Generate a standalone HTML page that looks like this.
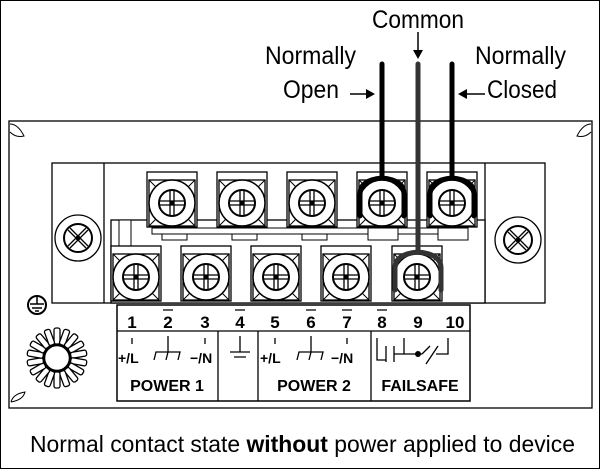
<!DOCTYPE html>
<html><head><style>body{margin:0;background:#fff}svg{display:block}</style></head><body>
<svg width="600" height="469" viewBox="0 0 600 469" xmlns="http://www.w3.org/2000/svg" font-family="Liberation Sans, sans-serif">
<rect x="0.5" y="0.5" width="599" height="468" fill="#fff" stroke="#000"/>
<defs>
<g id="term">
  <rect x="-25" y="-30" width="50" height="55" fill="#fff" stroke="#000" stroke-width="1.3"/>
  <rect x="-23" y="-22" width="46" height="46" fill="#fff" stroke="#000" stroke-width="1.3"/>
  <path d="M-23,-22 l8,8 M23,-22 l-8,8 M-23,24 l8,-8 M23,24 l-8,-8" stroke="#000"/>
  <circle cx="0" cy="1" r="23" fill="#fff" stroke="#000" stroke-width="1.5"/>
  <circle cx="0" cy="1" r="13" fill="#fff" stroke="#000" stroke-width="2"/>
  <path d="M-13,-1 h26 M-13,3 h26 M-2,-12 v26 M2,-12 v26" stroke="#000" stroke-width="1.3"/>
  <rect x="-2" y="-1" width="4" height="4" fill="#000"/>
</g>
<g id="screw">
  <circle r="23" fill="#fff" stroke="#000" stroke-width="1.3"/>
  <circle r="14" fill="#fff" stroke="#000" stroke-width="2"/>
  <path d="M-10,-8 L8,10 M-8,-10 L10,8 M-10,8 L8,-10 M-8,10 L10,-8" stroke="#000" stroke-width="1.3"/>
  <circle r="2.5" fill="#000"/>
</g>
</defs>
<rect x="9" y="121" width="583" height="287" fill="#fff" stroke="#000" stroke-width="1.3"/>
<path d="M10,124 q8,0 14,12 q-8,2 -14,-4" fill="none" stroke="#000"/>
<path d="M591,124 q-8,0 -14,12 q8,2 14,-4" fill="none" stroke="#000"/>
<path d="M11,402 q2,-8 14,-10 q-2,8 -14,10" fill="none" stroke="#000"/>
<rect x="52" y="163" width="493" height="140" fill="#fff" stroke="#000" stroke-width="1.3"/>
<line x1="104" y1="163" x2="104" y2="303" stroke="#000" stroke-width="1.3"/>
<line x1="485" y1="163" x2="485" y2="303" stroke="#000" stroke-width="1.3"/>
<rect x="111" y="220" width="374" height="83" fill="#fff" stroke="#000" stroke-width="1.3"/>
<rect x="119" y="220" width="12" height="26" fill="#fff" stroke="#000"/>
<rect x="152" y="228" width="300" height="6" fill="#fff" stroke="#000"/>
<g fill="#fff" stroke="#000">
<rect x="162" y="234" width="25" height="6"/><rect x="232" y="234" width="25" height="6"/><rect x="302" y="234" width="25" height="6"/><rect x="368" y="228" width="30" height="12"/><rect x="438" y="228" width="30" height="12"/>
</g>
<use href="#screw" x="78" y="238"/>
<use href="#screw" x="518" y="240"/>
<use href="#term" x="172" y="202"/>
<use href="#term" x="242" y="202"/>
<use href="#term" x="312" y="202"/>
<use href="#term" x="382" y="202"/>
<use href="#term" x="452" y="202"/>
<use href="#term" x="136" y="276"/>
<use href="#term" x="206" y="276"/>
<use href="#term" x="276" y="276"/>
<use href="#term" x="346" y="276"/>
<use href="#term" x="417" y="276"/>
<path d="M382,64 V178 M360,216 V194 Q360,180 382,178 Q404,180 404,194 V216" fill="none" stroke="#000" stroke-width="5" stroke-linecap="round"/>
<path d="M452,64 V178 M430,216 V194 Q430,180 452,178 Q474,180 474,194 V216" fill="none" stroke="#000" stroke-width="5" stroke-linecap="round"/>
<path d="M418,64 V252 M395,290 V268 Q395,254 418,252 Q441,254 441,268 V290" fill="none" stroke="#333" stroke-width="5" stroke-linecap="round"/>
<text x="418" y="28" font-size="25" text-anchor="middle" textLength="92" lengthAdjust="spacingAndGlyphs">Common</text>
<path d="M418,32 V52" stroke="#000" stroke-width="1.5"/><path d="M413,50 L418,59 L423,50 Z" fill="#000"/>
<text x="265" y="64" font-size="25" textLength="91" lengthAdjust="spacingAndGlyphs">Normally</text>
<text x="283" y="98" font-size="25" textLength="56" lengthAdjust="spacingAndGlyphs">Open</text>
<path d="M350,94 H368" stroke="#000" stroke-width="1.5"/><path d="M366,89 L375,94 L366,99 Z" fill="#000"/>
<text x="475" y="64" font-size="25" textLength="91" lengthAdjust="spacingAndGlyphs">Normally</text>
<text x="487" y="98" font-size="25" textLength="70" lengthAdjust="spacingAndGlyphs">Closed</text>
<path d="M465,94 H485" stroke="#000" stroke-width="1.5"/><path d="M467,89 L458,94 L467,99 Z" fill="#000"/>
<circle cx="37" cy="305" r="9" fill="#fff" stroke="#000" stroke-width="2"/>
<path d="M37,296 V304 M30,304 H44 M32,308 H42 M35,311 H39" stroke="#000" stroke-width="1.5"/>
<g transform="translate(57,358)" stroke="#000" fill="#fff" stroke-width="1.3">
<g id="sp"><rect x="-3" y="-30" width="6" height="16" rx="2"/></g>
<use href="#sp" transform="rotate(20)"/><use href="#sp" transform="rotate(40)"/><use href="#sp" transform="rotate(60)"/><use href="#sp" transform="rotate(80)"/><use href="#sp" transform="rotate(100)"/><use href="#sp" transform="rotate(120)"/><use href="#sp" transform="rotate(140)"/><use href="#sp" transform="rotate(160)"/><use href="#sp" transform="rotate(180)"/><use href="#sp" transform="rotate(200)"/><use href="#sp" transform="rotate(220)"/><use href="#sp" transform="rotate(240)"/><use href="#sp" transform="rotate(260)"/><use href="#sp" transform="rotate(280)"/><use href="#sp" transform="rotate(300)"/><use href="#sp" transform="rotate(320)"/><use href="#sp" transform="rotate(340)"/>
<circle r="13" stroke-width="2.5"/>
</g>
<rect x="117" y="305" width="353" height="96" fill="#fff" stroke="#000" stroke-width="1.5"/>
<path d="M117,331 H470 M218,331 V401 M258,331 V401 M371,331 V401" stroke="#000" stroke-width="1.3"/>
<g font-size="17" font-weight="bold" text-anchor="middle">
<text x="132" y="328">1</text><text x="168" y="328">2</text><text x="205" y="328">3</text><text x="240" y="328">4</text><text x="275" y="328">5</text><text x="311" y="328">6</text><text x="347" y="328">7</text><text x="382" y="328">8</text><text x="418" y="328">9</text><text x="455" y="328">10</text>
</g>
<path d="M163,310 h10 M235,310 h10 M306,310 h10 M342,310 h10 M377,310 h10" stroke="#000" stroke-width="1.3"/>
<g stroke="#000" stroke-width="1.3" fill="none">
<path d="M132,338 v6 M205,338 v6 M275,338 v6 M347,338 v6"/>
<path d="M168,336 v16 M154,360 l2,-8 h24 l-2,8 M168,352 l-2,8"/>
<path d="M311,336 v16 M297,360 l2,-8 h24 l-2,8 M311,352 l-2,8"/>
<path d="M240,336 v16 M230,352 h20 M234,357 h12"/>
<path d="M377,338 v22 h9 M386,346 v16 M394,346 v16 M394,354 h28 M404,338 v16 M422,354 l8,-8 M426,364 l12,-18 M436,354 h12 V338"/>
</g>
<circle cx="418" cy="354" r="3" fill="#000"/>
<g font-size="14" font-weight="bold">
<text x="118" y="363">+/L</text><text x="190" y="363">−/N</text>
<text x="260" y="363">+/L</text><text x="331" y="363">−/N</text>
</g>
<g font-size="16" font-weight="bold" text-anchor="middle">
<text x="167" y="391">POWER 1</text><text x="314" y="391">POWER 2</text><text x="420" y="391">FAILSAFE</text>
</g>
<text x="30" y="452" font-size="23" textLength="545" lengthAdjust="spacingAndGlyphs">Normal contact state <tspan font-weight="bold">without</tspan> power applied to device</text>
</svg>
</body></html>
